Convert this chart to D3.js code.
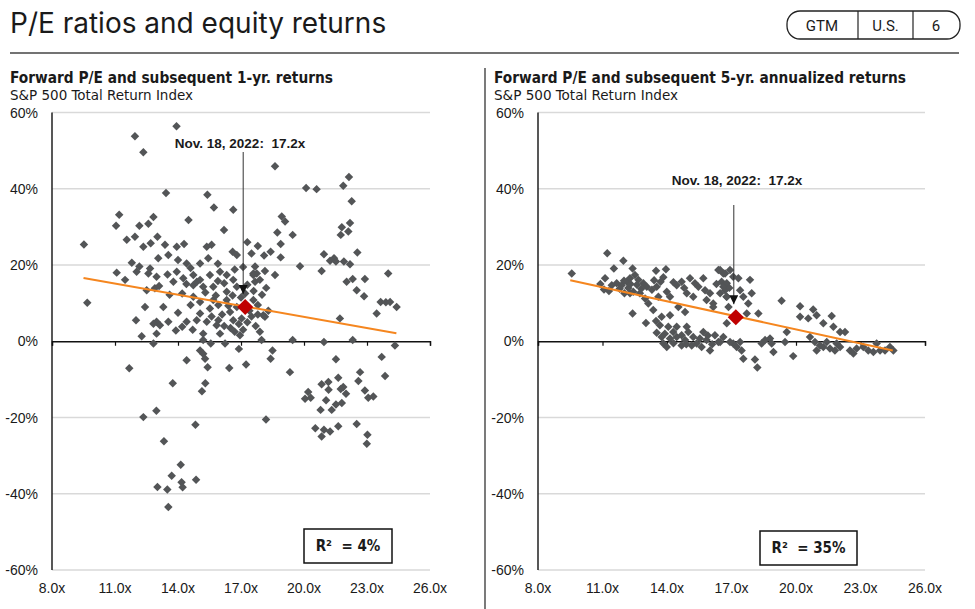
<!DOCTYPE html>
<html><head><meta charset="utf-8">
<script src="https://cdn.jsdelivr.net/npm/d3@7"></script>
<style>
html,body{margin:0;padding:0;background:#fff;}
svg{display:block;}
</style></head>
<body>
<svg id="chart" width="975" height="609"></svg>
<script>
// ---------- DATA ----------
const xTicks = [8, 11, 14, 17, 20, 23, 26];
const yTicks = [-60, -40, -20, 0, 20, 40, 60];
const badgeLabels = ["GTM", "U.S.", "6"];

// Forward P/E vs subsequent 1-yr returns (%)
const oneYearPoints = [
[13.93,56.4],[11.95,53.8],[12.35,49.6],[13.43,38.9],[15.4,38.4],[15.71,35.1],[16.63,34.5],[11.2,33.2],[11.05,30.3],[12.83,32.6],[12.16,30.3],[12.59,30.8],[14.5,31.8],[16.19,29.2],[11.56,26.6],[11.95,27.4],[13.02,27.4],[9.52,25.4],[12.35,24.8],[12.7,25.7],[13.38,25.3],[13.94,24.8],[14.29,25.5],[15.37,24.8],[15.6,25.3],[16.6,23.5],[16.8,22.6],[13.06,21.8],[13.54,22.6],[14.0,21.3],[14.41,20.4],[15.05,20.4],[15.44,21.8],[11.8,20.6],[12.16,19.6],[12.67,19.1],[11.08,18.0],[11.48,16.1],[12.03,18.2],[12.59,17.8],[12.98,16.9],[13.94,18.2],[13.78,15.6],[14.25,16.5],[14.73,17.4],[15.05,16.1],[15.52,17.4],[16.0,18.2],[16.32,17.4],[16.63,16.1],[12.9,13.9],[12.51,13.4],[14.73,14.7],[15.2,14.3],[15.68,14.3],[16.32,13.0],[16.8,14.3],[17.59,17.8],[17.67,15.6],[9.68,10.1],[12.43,9.0],[14.73,11.7],[15.05,10.3],[15.68,10.8],[15.05,7.3],[15.52,8.6],[15.92,9.5],[16.32,10.8],[16.48,7.7],[16.8,9.0],[17.59,10.8],[12.0,5.5],[12.98,5.1],[13.54,5.1],[14.41,5.1],[14.89,5.5],[15.92,5.5],[16.63,5.5],[17.03,6.0],[12.27,1.3],[12.98,2.0],[15.2,2.0],[16.0,2.0],[16.95,1.6],[12.83,-0.6],[15.2,0.3],[16.24,-0.6],[12.83,4.6],[13.14,4.2],[15.37,5.1],[15.84,4.2],[15.56,-0.6],[15.05,-2.4],[15.2,-3.3],[15.29,-4.6],[14.41,-5.0],[11.68,-7.1],[15.41,-6.8],[16.44,-7.0],[17.24,-6.1],[13.75,-11.0],[15.3,-11.0],[15.14,-13.1],[12.97,-18.2],[12.35,-19.9],[14.83,-21.9],[13.33,-26.2],[14.13,-32.4],[13.7,-35.3],[14.17,-37.0],[14.22,-38.3],[14.86,-36.3],[13.02,-38.2],[13.49,-38.9],[13.54,-43.5],
[17.2,12.5],[17.4,8.0],[17.0,11.5],[16.9,4.5],[17.5,6.5],[17.8,9.5],[18.0,12.2],[17.3,14.8],[16.6,12.0],[16.1,7.0],[15.8,12.0],[16.5,3.5],[17.1,3.0],[17.7,4.0],[18.3,8.0],[17.9,2.5],[16.9,-2.0],[14.6,9.5],[14.2,12.5],[13.6,12.2],[13.3,9.0],[14.0,7.5],[14.7,3.0],[13.9,2.8],[17.3,26.0],[17.8,25.0],[17.5,23.0],[18.1,22.5],
[14.4,15.0],[14.9,15.6],[15.3,12.8],[15.9,15.8],[16.2,15.2],[16.7,18.8],[17.1,19.5],[17.6,13.2],[18.2,14.0],[16.4,9.3],[15.6,6.5],[16.2,4.0],[17.3,5.0],[17.8,7.0],[16.7,2.5],[14.2,3.8],[13.1,14.5],[13.5,17.5],[14.6,19.2],[15.9,20.3],
[18.62,45.9],[20.1,40.2],[20.6,39.9],[21.87,40.8],[22.14,43.1],[22.27,36.7],[18.94,32.7],[19.1,31.4],[18.73,28.5],[19.46,27.9],[18.89,25.5],[21.8,29.9],[21.75,27.9],[22.11,28.8],[22.19,31.0],[18.41,23.5],[18.89,22.0],[20.95,22.8],[21.24,21.1],[21.43,21.8],[21.52,20.9],[22.54,23.3],[19.81,19.7],[21.9,20.9],[22.19,20.2],[17.67,19.6],[17.75,17.8],[17.9,16.1],[17.59,17.4],[18.14,18.4],[18.62,17.4],[20.84,18.4],[22.03,15.6],[22.32,16.3],[22.9,16.3],[22.51,13.4],[22.86,11.8],[24.01,17.8],[23.65,10.3],[23.9,10.2],[24.1,10.3],[24.41,9.0],[23.46,7.3],[21.71,6.0],[18.06,6.8],[18.14,6.4],[17.98,0.3],[19.46,0.3],[20.95,-0.2],[22.32,0.3],[24.33,-1.1],[18.5,-2.4],[18.41,-4.6],[19.33,-8.1],[21.52,-4.7],[23.7,-4.1],[23.86,-9.1],[22.67,-8.1],[22.59,-10.4],[21.63,-9.6],[21.16,-10.7],[20.84,-11.3],[21.87,-12.0],[21.75,-12.5],[22.0,-13.8],[21.17,-12.7],[22.9,-12.9],[23.06,-14.8],[23.3,-14.5],[20.2,-13.3],[20.05,-15.1],[20.32,-14.8],[21.05,-15.5],[21.52,-16.6],[21.8,-16.2],[20.79,-18.0],[21.32,-18.0],[18.19,-20.5],[20.54,-22.8],[20.84,-25.0],[20.95,-23.2],[21.24,-23.7],[21.63,-22.3],[22.51,-21.7],[23.02,-24.5],[22.99,-26.9]
];

// Forward P/E vs subsequent 5-yr annualized returns (%)
const fiveYearPoints = [
[9.57,17.8],[11.22,23.1],[11.97,21.1],[11.53,19.1],[12.4,19.1],[13.49,18.5],[13.95,18.9],[13.83,16.8],[11.12,16.5],[11.07,13.6],[11.43,14.7],[11.66,15.2],[11.89,14.7],[12.13,15.6],[12.28,16.5],[12.51,17.4],[12.67,16.1],[12.9,15.2],[13.06,14.3],[12.43,13.0],[12.74,12.6],[12.98,11.2],[13.13,9.9],[12.28,12.6],[12.02,12.6],[12.4,7.3],[13.02,4.8],[13.36,8.2],[13.52,14.3],[13.6,11.7],[13.49,5.3],[13.67,4.2],[13.75,6.4],[14.14,6.8],[13.99,13.0],[14.14,11.7],[14.45,14.7],[14.68,15.6],[15.07,16.5],[14.53,9.0],[14.84,7.7],[14.92,12.6],[15.22,11.7],[15.69,16.5],[15.46,14.3],[15.77,13.4],[16.0,12.6],[15.84,10.8],[16.15,9.9],[16.15,9.0],[16.39,18.7],[16.62,17.8],[16.54,15.6],[16.7,13.4],[16.77,11.7],
[13.52,2.2],[13.75,1.1],[13.99,-1.5],[14.14,0.7],[14.29,2.4],[14.45,1.1],[14.68,1.6],[14.84,0.3],[14.99,2.4],[15.22,1.1],[15.38,-0.6],[15.53,0.7],[15.69,2.4],[15.84,0.3],[16.0,-2.4],[16.23,1.6],[16.39,-0.2],[16.62,1.1],[14.06,3.8],[14.45,3.8],[14.92,3.8],[14.68,-1.1],[15.15,-1.1],[13.83,-0.6],[15.61,-1.5],
[16.47,18.7],[16.7,17.8],[16.93,18.7],[17.08,16.9],[16.78,15.2],[16.62,14.3],[16.47,12.6],[17.32,16.5],[17.4,13.4],[17.55,11.7],[17.86,16.1],[17.94,12.6],[17.78,9.9],[17.71,7.3],[16.78,11.7],[16.86,9.0],[16.78,4.7],[18.25,7.3],[19.33,10.6],[20.19,9.2],[20.8,8.3],[20.96,6.8],[20.19,6.4],[20.57,6.0],[21.27,4.7],[21.66,6.6],[21.74,3.8],[22.05,2.4],[22.28,2.4],[19.57,2.4],[19.49,-0.2],[18.56,0.3],[18.79,0.7],[18.87,-0.6],[18.95,-2.8],[18.4,-0.6],[19.87,-3.9],[18.09,-4.8],[18.2,-6.9],[17.08,-0.6],[17.24,-1.5],[17.47,-2.4],[17.55,-4.6],[17.4,-0.2],[16.47,-0.2],[16.93,-0.2],[20.65,1.1],[20.88,-0.2],[21.12,-1.1],[20.96,-2.4],[21.27,-1.5],[21.43,-0.2],[21.58,-1.9],[21.89,-0.6],[21.81,-2.4],[22.05,-1.5],[22.51,-2.4],[22.67,-3.2],[22.82,-1.9],[23.13,-1.5],[23.36,-2.4],[23.6,-2.8],[23.75,-0.6],[23.91,-2.4],[24.14,-2.4],[24.37,-1.5],[24.53,-2.4],
[12.2,14.0],[12.6,14.8],[13.3,13.5],[13.4,16.0],[14.3,15.5],[14.8,14.0],[15.3,15.2],[16.3,15.0],[16.9,14.0],[14.3,-0.5],[14.9,-0.8],[15.9,1.5],[16.1,-0.8],[13.9,2.0],
[11.3,13.2],[11.8,13.8],[12.0,15.9],[12.8,13.8],[13.7,15.6],[10.9,15.0],[12.3,15.0]
];

const trendOneYear = [[9.5, 16.6], [24.4, 2.1]];
const trendFiveYear = [[9.5, 16.0], [24.5, -2.4]];
const currentPoint = { pe: 17.2, oneYear: 9.0, fiveYear: 6.3 };
const annotationLabel = "Nov. 18, 2022:  17.2x";
const rSquared = ["R\u00B2  = 4%", "R\u00B2  = 35%"];

// ---------- DRAW ----------
const svg = d3.select("#chart");
const TEXT = "#1a1a1a";
const DOT = "#535557";
const ORANGE = "#f5861f";
const RED = "#c00000";
const ARIAL = "'Liberation Sans', Arial, sans-serif";
const NARROW = "'Liberation Sans Narrow', 'Arial Narrow', 'DejaVu Sans Condensed', sans-serif";

// Title
svg.append("text").attr("x", 10).attr("y", 33)
  .attr("font-family", "Inter, Roboto, sans-serif").attr("font-size", 28)
  .attr("fill", TEXT).text("P/E ratios and equity returns");

// Badge
const badge = svg.append("g");
badge.append("rect").attr("x", 787).attr("y", 11).attr("width", 173).attr("height", 28)
  .attr("rx", 13).attr("fill", "none").attr("stroke", "#222").attr("stroke-width", 1.3);
[858, 913].forEach(x => badge.append("line").attr("x1", x).attr("x2", x).attr("y1", 11).attr("y2", 39)
  .attr("stroke", "#222").attr("stroke-width", 1.2));
[822, 885.5, 936].forEach((cx, i) => badge.append("text").attr("x", cx).attr("y", 31)
  .attr("text-anchor", "middle").attr("font-family", "Roboto, sans-serif").attr("font-size", 15)
  .attr("fill", TEXT).text(badgeLabels[i]));

// Rule
svg.append("line").attr("x1", 10).attr("x2", 959).attr("y1", 53).attr("y2", 53)
  .attr("stroke", "#444").attr("stroke-width", 1.3);
// Separator
svg.append("line").attr("x1", 485).attr("x2", 485).attr("y1", 68).attr("y2", 609)
  .attr("stroke", "#333").attr("stroke-width", 1.3);

// Arrow marker
svg.append("defs").append("marker").attr("id", "arrow")
  .attr("viewBox", "0 0 10 10").attr("refX", 10).attr("refY", 5)
  .attr("markerWidth", 9).attr("markerHeight", 9).attr("markerUnits", "userSpaceOnUse")
  .attr("orient", "auto")
  .append("path").attr("d", "M0,0L10,5L0,10Z").attr("fill", "#111");

const panels = [
  { tx: 10, title: "Forward P/E and subsequent 1-yr. returns", titleW: 323, subW: 183,
    x0: 52, x1: 430, pts: oneYearPoints, trend: trendOneYear, cur: currentPoint.oneYear,
    labelX: 240, labelY: 148, arrowTop: 152, r2: rSquared[0], box: [304, 529, 88, 34] },
  { tx: 494, title: "Forward P/E and subsequent 5-yr. annualized returns", titleW: 412, subW: 184,
    x0: 538, x1: 925, pts: fiveYearPoints, trend: trendFiveYear, cur: currentPoint.fiveYear,
    labelX: 737, labelY: 185, arrowTop: 205, r2: rSquared[1], box: [760, 531, 97, 34] }
];

const y = d3.scaleLinear().domain([-60, 60]).range([570, 112.5]);
const diamond = d3.symbol().type(d3.symbolSquare).size(36);
const bigDiamond = d3.symbol().type(d3.symbolSquare).size(130);

panels.forEach(p => {
  const g = svg.append("g");
  const x = d3.scaleLinear().domain([8, 26]).range([p.x0, p.x1]);

  g.append("text").attr("x", p.tx).attr("y", 83).attr("font-family", NARROW)
    .attr("font-weight", "bold").attr("font-size", 15.5).attr("fill", TEXT)
    .attr("textLength", p.titleW).attr("lengthAdjust", "spacingAndGlyphs").text(p.title);
  g.append("text").attr("x", p.tx).attr("y", 100).attr("font-family", NARROW)
    .attr("font-size", 14).attr("fill", TEXT)
    .attr("textLength", p.subW).attr("lengthAdjust", "spacingAndGlyphs").text("S&P 500 Total Return Index");

  // gridlines
  g.selectAll(".grid").data(yTicks.filter(d => d !== 0)).join("line")
    .attr("x1", p.x0).attr("x2", p.x1).attr("y1", d => y(d)).attr("y2", d => y(d))
    .attr("stroke", "#d9d9d9").attr("stroke-width", 1.3);

  // y labels
  g.selectAll(".ylab").data(yTicks).join("text")
    .attr("x", p.x0 - 14).attr("y", d => y(d)).attr("dy", "0.36em")
    .attr("text-anchor", "end").attr("font-family", ARIAL).attr("font-size", 14)
    .attr("fill", TEXT).text(d => d + "%");

  // x labels
  g.selectAll(".xlab").data(xTicks).join("text")
    .attr("x", d => x(d)).attr("y", 593).attr("text-anchor", "middle")
    .attr("font-family", ARIAL).attr("font-size", 14).attr("fill", TEXT)
    .text(d => d.toFixed(1) + "x");

  // zero axis with ticks
  const axis = d3.axisBottom(x).tickValues(xTicks).tickSize(4.5).tickFormat("");
  const ax = g.append("g").attr("transform", `translate(0,${y(0)})`).call(axis);
  ax.select(".domain").attr("stroke", "#111").attr("stroke-width", 1.4);
  ax.selectAll(".tick line").attr("stroke", "#111").attr("stroke-width", 1.2);

  // y axis line
  g.append("line").attr("x1", p.x0).attr("x2", p.x0).attr("y1", y(60)).attr("y2", y(-60))
    .attr("stroke", "#111").attr("stroke-width", 1.4);

  // points
  g.selectAll(".pt").data(p.pts).join("path")
    .attr("d", diamond)
    .attr("transform", d => `translate(${x(d[0])},${y(d[1])}) rotate(45)`)
    .attr("fill", DOT);

  // trend line
  g.append("line").attr("x1", x(p.trend[0][0])).attr("y1", y(p.trend[0][1]))
    .attr("x2", x(p.trend[1][0])).attr("y2", y(p.trend[1][1]))
    .attr("stroke", ORANGE).attr("stroke-width", 2);

  // current marker
  g.append("path").attr("d", bigDiamond)
    .attr("transform", `translate(${x(currentPoint.pe)},${y(p.cur)}) rotate(45)`)
    .attr("fill", RED);

  // annotation
  g.append("text").attr("x", p.labelX).attr("y", p.labelY).attr("text-anchor", "middle")
    .attr("font-family", ARIAL).attr("font-weight", "bold").attr("font-size", 13.5)
    .attr("fill", TEXT).style("white-space", "pre").text(annotationLabel);
  g.append("line").attr("x1", x(currentPoint.pe) - 2).attr("x2", x(currentPoint.pe) - 2)
    .attr("y1", p.arrowTop).attr("y2", y(p.cur) - 13)
    .attr("stroke", "#333").attr("stroke-width", 1).attr("marker-end", "url(#arrow)");

  // R2 box
  g.append("rect").attr("x", p.box[0]).attr("y", p.box[1]).attr("width", p.box[2]).attr("height", p.box[3])
    .attr("fill", "#fff").attr("stroke", "#111").attr("stroke-width", 1.5);
  g.append("text").attr("x", p.box[0] + p.box[2] / 2).attr("y", p.box[1] + p.box[3] / 2).attr("dy", "0.36em")
    .attr("text-anchor", "middle").attr("font-family", NARROW).attr("font-weight", "bold")
    .attr("font-size", 15).attr("fill", TEXT).style("white-space", "pre").text(p.r2);
});
</script>
</body></html>
